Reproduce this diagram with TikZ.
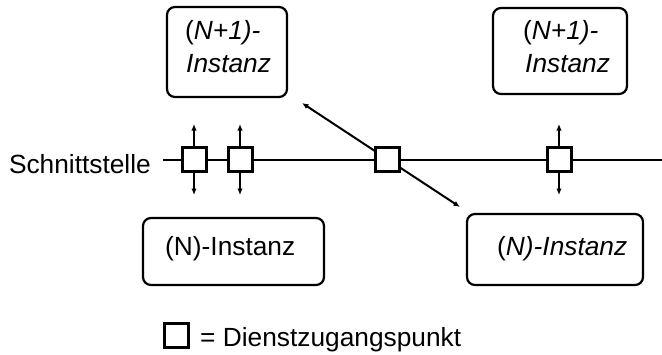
\documentclass[tikz,border=0pt]{standalone}
\usepackage{fontspec}
\setmainfont{Liberation Sans}
\usetikzlibrary{arrows.meta,backgrounds}
\begin{document}
\begin{tikzpicture}[x=1pt,y=-1pt,
  inst/.style={draw,line width=2.2pt,rounded corners=8pt,inner sep=0pt},
  lbl/.style={inner sep=0pt,anchor=base west,font=\fontsize{26.3}{33}\selectfont},
  sap/.style={draw,line width=3pt,fill=white,minimum size=24pt,inner sep=0pt},
  conn/.style={line width=2pt},
  arr/.style={line width=2pt,-{Latex[length=6.5pt,width=5.5pt]}},
  darr/.style={line width=2pt,{Latex[length=6.5pt,width=5.5pt]}-{Latex[length=6.5pt,width=5.5pt]}}]
\useasboundingbox (0,0) rectangle (662,354);

% instance boxes
\node[inst,minimum width=120pt,minimum height=90pt] (tl) at (227,52) {};
\node[inst,minimum width=134pt,minimum height=86pt] (tr) at (560,51) {};
\node[inst,minimum width=181pt,minimum height=67pt] (bl) at (233.5,251.5) {};
\node[inst,minimum width=176pt,minimum height=71pt] (br) at (555,249.5) {};

\node[lbl] (tl1) at (185,39) {(\textit{N+1)-}};
\node[lbl] (tl2) at (186,72) {\textit{Instanz}};
\node[lbl] (tr1) at (523,39) {(\textit{N+1)-}};
\node[lbl] (tr2) at (525,72) {\textit{Instanz}};
\node[lbl] (blt) at (165,255) {(N)-Instanz};
\node[lbl] (brt) at (497,255) {(\textit{N)-Instanz}};

\node[lbl,anchor=base east] (schn) at (151,173) {Schnittstelle};

% service access points
\node[sap] (s1) at (194,159.5) {};
\node[sap] (s2) at (240,159.5) {};
\node[sap] (s3) at (387,159.5) {};
\node[sap] (s4) at (559,159.5) {};

\coordinate (lineL) at (163,159.5);
\coordinate (lineR) at (662,159.5);
\coordinate (d1) at (302,103);
\coordinate (d2) at (460,207);

\begin{pgfonlayer}{background}
\draw[conn] (lineL) -- (lineR);
\draw[darr] (d1) -- (d2);
\end{pgfonlayer}

\foreach \s in {s1,s2,s4}{
  \draw[arr] (\s.north) -- ++(0,-22);
  \draw[arr] (\s.south) -- ++(0,22);
}

% legend
\node[sap] (leg) at (176.5,335.5) {};
\node[lbl] (legt) at (200,346) {= Dienstzugangspunkt};
\end{tikzpicture}
\end{document}
